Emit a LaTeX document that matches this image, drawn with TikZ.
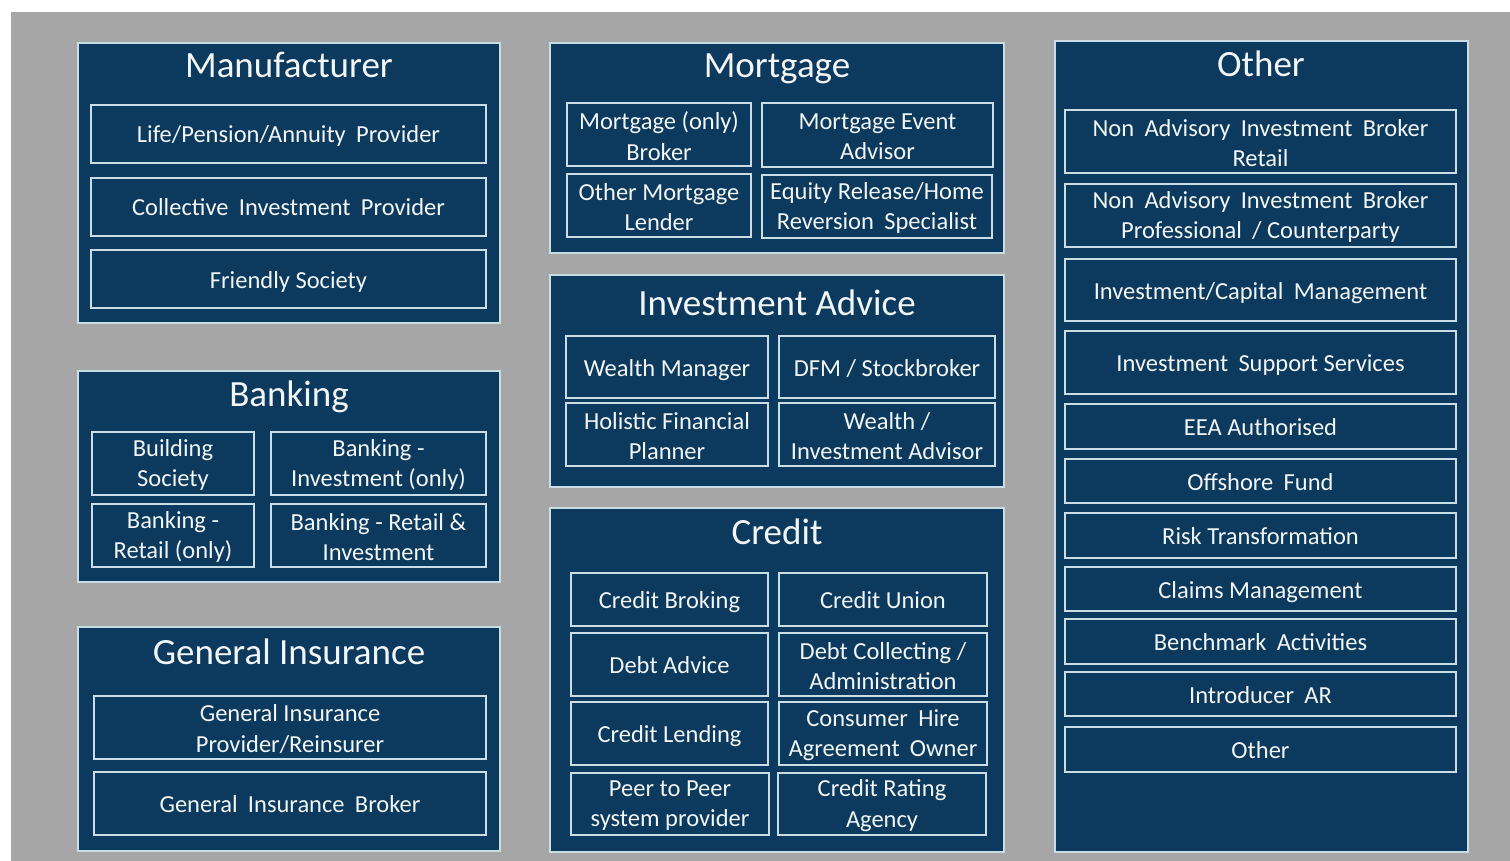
\documentclass[tikz,border=0pt]{standalone}
\usepackage{fontspec}
\setmainfont{Carlito}
\definecolor{bggrey}{HTML}{A6A6A6}
\definecolor{panelblue}{HTML}{0C3A5E}
\definecolor{edge}{HTML}{C8DEE4}
\definecolor{txt}{HTML}{F2F6F8}
\newcommand\gp{\hspace{0.42em}}
\tikzset{
  panel/.style={fill=panelblue, draw=edge, line width=2pt},
  item/.style={draw=edge, line width=1.8pt, inner sep=0pt, align=center, text=txt,
    font=\fontsize{24.5}{30.5}\selectfont},
  oneline/.style={text height=18pt, text depth=0pt},
  ttl/.style={text=txt, font=\fontsize{37}{42}\selectfont, inner sep=0pt, anchor=base}
}
\newcommand\panelbox[5]{\draw[panel] (#2,#3) rectangle (#4,#5); \coordinate (#1) at ({(#2+#4)/2},#3);}
\newcommand\cell[6]{\node[item, oneline, minimum width={#4pt-#2pt}, minimum height={#5pt-#3pt}] (#1) at ({(#2+#4)/2},{(#3+#5)/2}) {#6};}
\newcommand\cellii[6]{%
  \draw[draw=edge, line width=1.8pt] (#2,#3) rectangle (#4,#5);
  \node[text=txt, align=center, inner sep=0pt, font=\fontsize{24.5}{30.5}\selectfont] (#1) at ({(#2+#4)/2},{(#3+#5)/2+1.5}) {#6};}
\begin{document}
\begin{tikzpicture}[x=1pt,y=-1pt]
\useasboundingbox (0,0) rectangle (1510,861);
\fill[white] (0,0) rectangle (1510,861);
\fill[bggrey] (11,12) rectangle (1510,861);
% Manufacturer
\panelbox{pman}{78}{43}{500}{323}
\node[ttl] (tman) at (289,78) {Manufacturer};
\cell{m1}{91}{105}{486}{163}{Life/Pension/Annuity\gp Provider}
\cell{m2}{91}{178}{486}{236}{Collective\gp Investment\gp Provider}
\cell{m3}{91}{250}{486}{308}{Friendly Society}
% Banking
\panelbox{pbank}{78}{371}{500}{582}
\node[ttl] (tbank) at (289,406) {Banking};
\cellii{b1}{92}{432}{254}{495}{Building\\Society}
\cellii{b2}{271}{432}{486}{495}{Banking -\\Investment (only)}
\cellii{b3}{92}{504}{254}{567}{Banking -\\Retail (only)}
\cellii{b4}{271}{504}{486}{567}{Banking - Retail \&\\Investment}
% General Insurance
\panelbox{pgi}{78}{627}{500}{851}
\node[ttl] (tgi) at (289,664) {General Insurance};
\cellii{g1}{94}{696}{486}{759}{General Insurance\\Provider/Reinsurer}
\cell{g2}{94}{772}{486}{835}{General\gp Insurance\gp Broker}
% Mortgage
\panelbox{pmort}{550}{43}{1004}{253}
\node[ttl] (tmort) at (777,78) {Mortgage};
\cellii{mo1}{567}{103}{751}{166}{Mortgage (only)\\Broker}
\cellii{mo2}{762}{103}{993}{167}{Mortgage Event\\Advisor}
\cellii{mo3}{567}{174}{751}{237}{Other Mortgage\\Lender}
\cellii{mo4}{762}{175}{992}{238}{Equity Release/Home\\Reversion\gp Specialist}
% Investment Advice
\panelbox{pinv}{550}{275}{1004}{487}
\node[ttl] (tinv) at (777,315) {Investment Advice};
\cell{i1}{566}{336}{768}{398}{Wealth Manager}
\cell{i2}{779}{336}{995}{398}{DFM / Stockbroker}
\cellii{i3}{566}{403}{768}{466}{Holistic Financial\\Planner}
\cellii{i4}{779}{403}{995}{466}{Wealth /\\Investment Advisor}
% Credit
\panelbox{pcred}{550}{508}{1004}{852}
\node[ttl] (tcred) at (777,544) {Credit};
\cell{c1}{571}{573}{768}{626}{Credit Broking}
\cell{c2}{779}{573}{987}{626}{Credit Union}
\cell{c3}{571}{633}{768}{696}{Debt Advice}
\cellii{c4}{779}{633}{987}{696}{Debt Collecting /\\Administration}
\cell{c5}{571}{702}{768}{765}{Credit Lending}
\cellii{c6}{779}{702}{987}{765}{Consumer\gp Hire\\Agreement\gp Owner}
\cellii{c7}{571}{773}{769}{835}{Peer to Peer\\system provider}
\cellii{c8}{778}{773}{986}{835}{Credit Rating\\Agency}
% Other
\panelbox{poth}{1055}{41}{1468}{852}
\node[ttl] (toth) at (1261,77) {Other};
\cellii{o1}{1065}{110}{1456}{173}{Non\gp Advisory\gp Investment\gp Broker\\Retail}
\cellii{o2}{1065}{184}{1456}{247}{Non\gp Advisory\gp Investment\gp Broker\\Professional\gp /\ Counterparty}
\cell{o3}{1065}{259}{1456}{321}{Investment/Capital\gp Management}
\cell{o4}{1065}{331}{1456}{394}{Investment\gp Support\ Services}
\cell{o5}{1065}{404}{1456}{449}{EEA Authorised}
\cell{o6}{1065}{459}{1456}{503}{Offshore\gp Fund}
\cell{o7}{1065}{513}{1456}{558}{Risk Transformation}
\cell{o8}{1065}{567}{1456}{611}{Claims Management}
\cell{o9}{1065}{619}{1456}{664}{Benchmark\gp Activities}
\cell{o10}{1065}{672}{1456}{716}{Introducer\gp AR}
\cell{o11}{1065}{727}{1456}{772}{Other}
\end{tikzpicture}
\end{document}
